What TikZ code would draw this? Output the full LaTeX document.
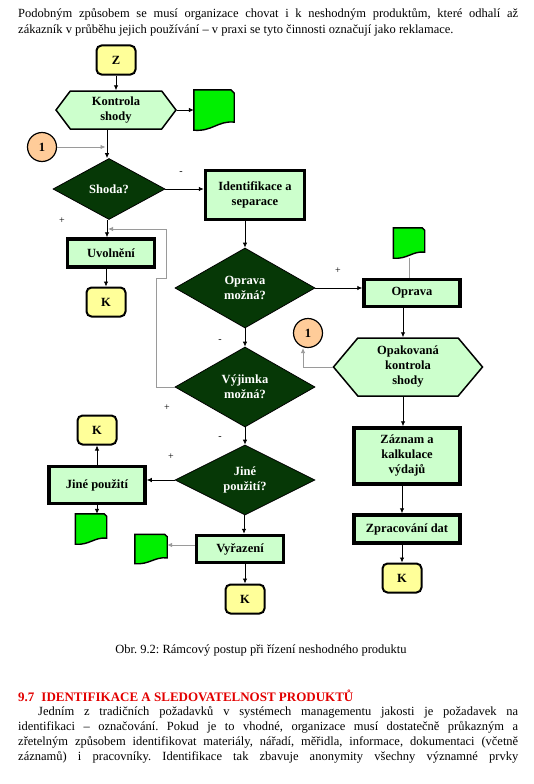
\documentclass[tikz,border=0pt]{standalone}
\usepackage{fontspec}
\setmainfont{Liberation Serif}
\usepackage{tikz}
\usetikzlibrary{shapes.geometric, shapes.symbols, arrows.meta, positioning, calc}
\frenchspacing

\definecolor{boxgreen}{HTML}{CCFFCC}
\definecolor{darkgreen}{HTML}{063806}
\definecolor{docgreen}{HTML}{00F000}
\definecolor{termyellow}{HTML}{FFFF99}
\definecolor{connorange}{HTML}{FFCC99}
\definecolor{linegray}{HTML}{9A9A9A}
\definecolor{headred}{HTML}{E20000}

\tikzstyle{arrow} = [line width=0.8pt, -{Latex[length=5pt,width=4.5pt]}]
\tikzstyle{grayarrow} = [arrow, draw=linegray]

% document symbol drawn over an empty named node
\newcommand{\dokument}[1]{%
  \draw[line width=1.4pt, fill=docgreen] let \p1=(#1.south west), \p2=(#1.north east),
    \n1={\x2-\x1}, \n2={\y2-\y1} in
    (\x1,\y2) -- ({\x2-0.08*\n1},\y2) -- (\x2,{\y2-0.08*\n2}) -- (\x2,{\y1+0.2*\n2})
    .. controls ({\x1+0.6*\n1},{\y1+0.24*\n2}) and ({\x1+0.45*\n1},{\y1-0.04*\n2}) .. (\x1,\y1) -- cycle;}

\begin{document}
\begin{tikzpicture}[x=1pt, y=-1pt,
    terminal/.style={rectangle, rounded corners=5pt, draw=black, line width=2pt, fill=termyellow,
      minimum width=39pt, minimum height=29pt, inner sep=0pt, font=\bfseries\fontsize{12.5}{14}\selectfont},
    process/.style={rectangle, draw=black, line width=3.5pt, fill=boxgreen, align=center,
      inner sep=0pt, font=\bfseries\fontsize{12.5}{15}\selectfont},
    decision/.style={diamond, draw=black, line width=0.8pt, fill=darkgreen, text=white, align=center,
      inner sep=0pt, font=\bfseries\fontsize{12.5}{15}\selectfont},
    check/.style={signal, signal to=east and west, draw=black, line width=1.5pt, fill=boxgreen,
      align=center, inner sep=0pt, font=\bfseries\fontsize{12.5}{15}\selectfont},
    connector/.style={circle, draw=black, line width=1.2pt, fill=connorange, minimum size=29pt,
      inner sep=0pt, font=\bfseries\fontsize{12.5}{14}\selectfont},
    docnode/.style={rectangle, minimum width=31pt, minimum height=30pt, inner sep=0pt},
    sign/.style={font=\fontsize{10}{12}\selectfont},
    bodytext/.style={inner sep=0pt, text width=500pt, align=justify, font=\fontsize{12.5}{16}\selectfont}
]
\useasboundingbox (0,0) rectangle (534,784);

% Text above the figure
\node[bodytext, anchor=north west] (uvod) at (18,8)
  {Podobným způsobem se musí organizace chovat i k~neshodným produktům, které odhalí až\linebreak
   zákazník v~průběhu jejich používání – v praxi se tyto činnosti označují jako reklamace.};

% Start and first check
\node[terminal] (start) at (116,60) {Z};
\node[check, minimum width=120pt, minimum height=38pt, signal pointer angle=106] (kontrola) at (116,110) {Kontrola\\shody};
\node[docnode, minimum width=40pt, minimum height=40pt] (dok1) at (214,110) {};
\node[connector] (spoj1) at (42,147) {1};
\node[decision, minimum width=112pt, minimum height=61pt, aspect=1.84] (shoda) at (109,189) {Shoda?};

% Left branch
\node[process, minimum width=87pt, minimum height=28pt] (uvolneni) at (111,253) {Uvolnění};
\node[terminal] (konec1) at (106,302) {K};

% Middle column
\node[process, minimum width=99pt, minimum height=49pt] (identifikace) at (255,195) {Identifikace a\\separace};
\node[decision, minimum width=140pt, minimum height=80pt, aspect=1.75] (opravamozna) at (245,288) {Oprava\\možná?};
\node[decision, minimum width=140pt, minimum height=80pt, aspect=1.75] (vyjimka) at (245,387) {Výjimka\\možná?};
\node[decision, minimum width=140pt, minimum height=70pt, aspect=2] (jine) at (245,480) {Jiné\\použití?};
\node[process, minimum width=87pt, minimum height=27pt] (vyrazeni) at (240,549) {Vyřazení};
\node[terminal] (konec4) at (245,599) {K};
\node[docnode, minimum width=32pt, minimum height=29pt] (dok4) at (151,549) {};

% Other use
\node[process, minimum width=96pt, minimum height=37pt] (jinepouziti) at (97,485) {Jiné použití};
\node[terminal] (konec3) at (97,430) {K};
\node[docnode] (dok3) at (91,529) {};

% Right column
\node[docnode] (dok2) at (409,243) {};
\node[process, minimum width=96pt, minimum height=27pt] (oprava) at (412,293) {Oprava};
\node[check, minimum width=149pt, minimum height=58pt, signal pointer angle=100] (opakovana) at (408,367) {Opakovaná\\kontrola\\shody};
\node[connector] (spoj2) at (308,333) {1};
\node[process, minimum width=106pt, minimum height=56pt] (zaznam) at (407,456) {Záznam a\\kalkulace\\výdajů};
\node[process, minimum width=106pt, minimum height=28pt] (zpracovani) at (407,529) {Zpracování dat};
\node[terminal] (konec5) at (402,578) {K};

% Document symbols
\dokument{dok1}
\dokument{dok2}
\dokument{dok3}
\dokument{dok4}

% Connectors
\draw[arrow] (start.south) -- (kontrola.north -| start.south);
\draw[arrow] (kontrola.east) -- (dok1.west);
\draw[arrow] (kontrola.south -| 107,0) -- (shoda.north -| 107,0);
\draw[grayarrow, shorten >=1.5pt] (spoj1.east) -- (spoj1.east -| 107,0);
\draw[arrow] (shoda.east) -- (shoda.east -| identifikace.west);
\draw[arrow] (shoda.south -| 107,0) -- (uvolneni.north -| 107,0);
\draw[arrow] (uvolneni.south -| konec1) -- (konec1.north);
\draw[arrow] (identifikace.south -| opravamozna) -- (opravamozna.north);
\draw[arrow] (opravamozna.east) -- (opravamozna.east -| oprava.west);
\draw[line width=0.8pt, draw=linegray] (dok2.south) -- (dok2.south |- oprava.north);
\draw[arrow] (oprava.south -| 403,0) -- (opakovana.north -| 403,0);
\draw[grayarrow] (opakovana.west) -| ([xshift=-5pt]spoj2.south);
\draw[arrow] (opakovana.south -| 403,0) -- (zaznam.north -| 403,0);
\draw[arrow] (zaznam.south -| 402,0) -- (zpracovani.north -| 402,0);
\draw[arrow] (zpracovani.south -| konec5) -- (konec5.north);
\draw[arrow] (opravamozna.south) -- (vyjimka.north);
\coordinate (ohyb1) at (156,278);
\coordinate (ohyb2) at (166,229);
\draw[grayarrow, shorten >=1pt] (vyjimka.west) -| (ohyb1) -| (ohyb2) -- (ohyb2 -| 107,0);
\draw[arrow] (vyjimka.south) -- (jine.north);
\draw[arrow] (jine.west) -- (jine.west -| jinepouziti.east);
\draw[arrow] (jinepouziti.north) -- (konec3.south);
\draw[arrow] (jinepouziti.south) -- (jinepouziti.south |- dok3.north);
\draw[arrow] (jine.south -| 244,0) -- (vyrazeni.north -| 244,0);
\draw[grayarrow] (vyrazeni.west |- 0,545) -- (dok4.east |- 0,545);
\draw[arrow] (vyrazeni.south -| konec4) -- (konec4.north);

% Branch signs
\node[sign] (s1) at (181,173) {-};
\node[sign] (s2) at (62,221) {+};
\node[sign] (s3) at (338,271) {+};
\node[sign] (s4) at (220,341) {-};
\node[sign] (s5) at (167,408) {+};
\node[sign] (s6) at (220,438) {-};
\node[sign] (s7) at (171,457) {+};

% Caption and following text
\node[anchor=base, font=\fontsize{12.5}{15}\selectfont] (popis) at (261,653)
  {Obr. 9.2: Rámcový postup při řízení neshodného produktu};
\node[anchor=base west, inner sep=0pt, text=headred, font=\bfseries\fontsize{13}{15}\selectfont] (nadpis) at (18,701)
  {9.7\hspace{7pt}IDENTIFIKACE A SLEDOVATELNOST PRODUKTŮ};
\node[bodytext, anchor=north west, font=\fontsize{12.5}{15}\selectfont] (odstavec) at (18,706)
  {\hspace*{20pt}Jedním z~tradičních požadavků v~systémech managementu jakosti je požadavek na\linebreak
   identifikaci – označování. Pokud je to vhodné, organizace musí dostatečně průkazným a\linebreak
   zřetelným způsobem identifikovat materiály, nářadí, měřidla, informace, dokumentaci (včetně\linebreak
   záznamů) i pracovníky. Identifikace tak zbavuje anonymity všechny významné prvky\parfillskip=0pt\par};
\end{tikzpicture}
\end{document}
